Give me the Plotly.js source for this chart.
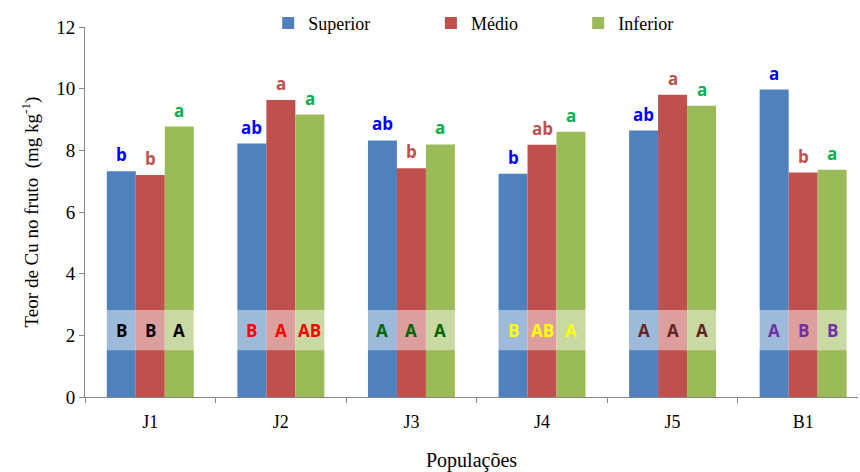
<!DOCTYPE html>
<html>
<head>
<meta charset="utf-8">
<script src="https://cdn.plot.ly/plotly-3.0.1.min.js"></script>
<style>html,body{margin:0;padding:0;background:#fff;}#chart{width:860px;height:472px;}</style>
</head>
<body>
<div id="chart"></div>
<script>
const categories = ["J1", "J2", "J3", "J4", "J5", "B1"];
const seriesNames = ["Superior", "Médio", "Inferior"];
const superior = [7.32, 8.22, 8.32, 7.24, 8.64, 9.97];
const medio    = [7.20, 9.63, 7.42, 8.18, 9.80, 7.28];
const inferior = [8.77, 9.16, 8.19, 8.60, 9.45, 7.37];
const lowerLetters = [
  ["b", "ab", "ab", "b", "ab", "a"],
  ["b", "a", "b", "ab", "a", "b"],
  ["a", "a", "a", "a", "a", "a"]
];
const upperLetters = [
  ["B", "B", "A"],
  ["B", "A", "AB"],
  ["A", "A", "A"],
  ["B", "AB", "A"],
  ["A", "A", "A"],
  ["A", "B", "B"]
];
const upperColors = ["#000000", "#FF0000", "#006400", "#FFFF00", "#632523", "#7030A0"];
const barColors = ["#4F81BD", "#C0504D", "#9BBB59"];
const lowerColors = ["#0000FF", "#C0504D", "#00B050"];
const bandRange = [1.52, 2.82];

const values = [superior, medio, inferior];
const bargap = 0.334;
const serif = "Liberation Serif";
const sans = "Open Sans";
const legendIds = ["legend", "legend2", "legend3"];
const legendX = [0.237, 0.4475, 0.638];

const traces = values.map((v, j) => ({
  type: "bar",
  name: seriesNames[j],
  legend: legendIds[j],
  x: categories,
  y: v,
  marker: {color: barColors[j], line: {width: 0}},
  hoverinfo: "skip"
}));

const annotations = [];
const w = (1 - bargap) / 3;
values.forEach((v, j) => {
  v.forEach((val, i) => {
    annotations.push({
      x: i + (j - 1) * w, y: val, xref: "x", yref: "y",
      text: "<b>" + lowerLetters[j][i] + "</b>",
      showarrow: false, yanchor: "bottom", yshift: 3,
      font: {family: sans, size: 17, color: lowerColors[j]}
    });
  });
});
upperLetters.forEach((row, i) => {
  row.forEach((t, j) => {
    annotations.push({
      x: i + (j - 1) * w, y: (bandRange[0] + bandRange[1]) / 2, xref: "x", yref: "y",
      text: "<b>" + t + "</b>",
      showarrow: false, yanchor: "middle",
      font: {family: sans, size: 17, color: upperColors[i]}
    });
  });
});

function legendDef(x) {
  return {
    orientation: "h", x: x, y: 1.06, xanchor: "left", yanchor: "top",
    font: {family: serif, size: 18, color: "#000"},
    itemwidth: 30, bgcolor: "rgba(0,0,0,0)"
  };
}

const layout = {
  width: 860, height: 472,
  margin: {l: 85, r: 2, t: 27, b: 75, autoexpand: false},
  paper_bgcolor: "#fff", plot_bgcolor: "#fff",
  font: {family: serif, size: 18, color: "#000"},
  barmode: "group", bargap: bargap, bargroupgap: 0,
  showlegend: true,
  legend: legendDef(legendX[0]),
  legend2: legendDef(legendX[1]),
  legend3: legendDef(legendX[2]),
  xaxis: {
    type: "category", range: [-0.5, 5.42], autorange: false,
    showline: true, linecolor: "#868686", linewidth: 1,
    ticks: "outside", ticklen: 5, tickcolor: "#868686", tickson: "boundaries",
    tickfont: {family: serif, size: 18}, ticklabelstandoff: 8,
    showgrid: false, zeroline: false,
    title: {text: "Populações", font: {family: serif, size: 20}, standoff: 22}
  },
  yaxis: {
    range: [0, 12], dtick: 2, tick0: 0,
    showline: true, linecolor: "#868686", linewidth: 1,
    ticks: "outside", ticklen: 5, tickcolor: "#868686",
    tickfont: {family: serif, size: 19}, showgrid: false, zeroline: false,
    title: {text: "Teor de Cu no fruto  (mg kg<sup>-1</sup>)", font: {family: serif, size: 19}, standoff: 12}
  },
  shapes: [{
    type: "rect", xref: "paper", yref: "y", x0: 0, x1: 1,
    y0: bandRange[0], y1: bandRange[1],
    fillcolor: "rgba(255,255,255,0.45)", line: {width: 0}, layer: "above"
  }],
  annotations: annotations
};

Plotly.newPlot("chart", traces, layout, {displayModeBar: false, staticPlot: true});
</script>
</body>
</html>
